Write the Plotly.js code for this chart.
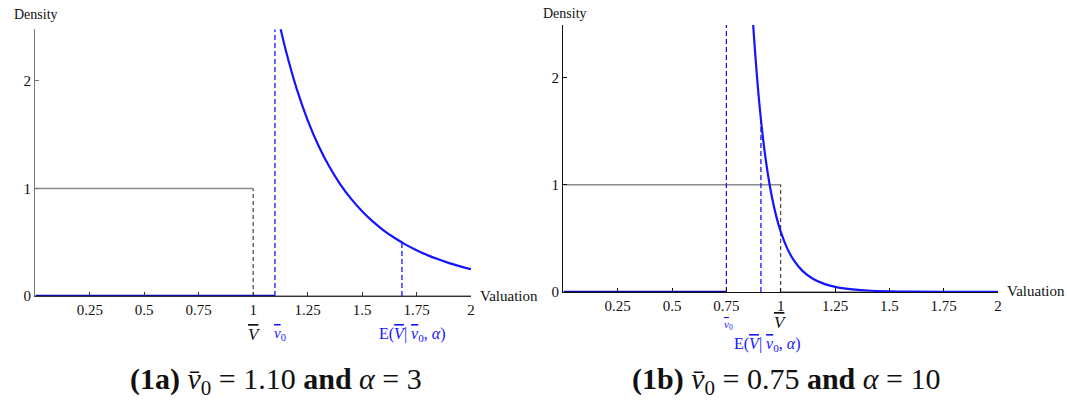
<!DOCTYPE html>
<html><head><meta charset="utf-8">
<script src="https://cdn.plot.ly/plotly-3.0.1.min.js"></script>
<style>body{margin:0;background:#fff}#c{width:1067px;height:402px}</style>
</head><body><div id="c"></div>
<script>
// ---- data ----
const xTicks = [0.25, 0.5, 0.75, 1, 1.25, 1.5, 1.75, 2];
const xTickText = ['0.25', '0.5', '0.75', '1', '1.25', '1.5', '1.75', '2'];
const yTicks = [0, 1, 2];
const yTickText = ['0', '1', '2'];

// panel (1a): v0 = 1.10, alpha = 3
const a_v0 = 1.10;
const a_E = 1.683;
const a_Ey = 0.498;
const a_curveX = [1.10, 1.12, 1.15, 1.20, 1.25, 1.30, 1.35, 1.40, 1.45, 1.50, 1.55, 1.60, 1.65, 1.70, 1.75, 1.80, 1.85, 1.90, 1.95, 2.00];
const a_curveY = [2.727, 2.538, 2.283, 1.926, 1.636, 1.398, 1.202, 1.039, 0.903, 0.789, 0.692, 0.609, 0.539, 0.478, 0.426, 0.380, 0.341, 0.306, 0.276, 0.250];

// panel (1b): v0 = 0.75, alpha = 10
const b_v0 = 0.75;
const b_E = 0.909;
const b_Ey = 1.60;
const b_curveX = [0.85, 0.87, 0.88, 0.90, 0.92, 0.94, 0.96, 0.98, 1.00, 1.03, 1.06, 1.10, 1.15, 1.20, 1.25, 1.30, 1.40, 1.50, 1.60, 1.75, 2.00];
const b_curveY = [3.364, 2.606, 2.298, 1.795, 1.409, 1.112, 0.882, 0.703, 0.563, 0.407, 0.297, 0.197, 0.121, 0.076, 0.048, 0.031, 0.014, 0.0065, 0.0032, 0.0012, 0.0003];

// uniform density on [0,1]
const uniX = [0, 1];
const uniY = [1, 1];
const uniDashX = [1, 1];
const uniDashY = [0, 1];
const uniZeroX = [1, 2];
const uniZeroY = [0, 0];

const yMaxA = 2.48, yMaxB = 2.49;

// ---- styling ----
const BLUE = '#1414ff';
const GRAY = '#8a8a8a';
const FONT = 'Liberation Serif, Times New Roman, serif';

function traces(xa, ya, v0, E, Ey, cx, cy, yMax) {
  return [
    {x: uniZeroX, y: uniZeroY, xaxis: xa, yaxis: ya, mode: 'lines', line: {color: GRAY, width: 1.5}},
    {x: uniX, y: uniY, xaxis: xa, yaxis: ya, mode: 'lines', line: {color: GRAY, width: 1.5}},
    {x: uniDashX, y: uniDashY, xaxis: xa, yaxis: ya, mode: 'lines', line: {color: '#222', width: 1, dash: '4px,3px'}},
    {x: [0, v0], y: [0, 0], xaxis: xa, yaxis: ya, mode: 'lines', line: {color: '#0a0aa0', width: 2.5}},
    {x: [v0, v0], y: [0, yMax], xaxis: xa, yaxis: ya, mode: 'lines', line: {color: BLUE, width: 1.3, dash: '5px,3px'}},
    {x: [E, E], y: [0, Ey], xaxis: xa, yaxis: ya, mode: 'lines', line: {color: BLUE, width: 1.3, dash: '5px,3px'}},
    {x: cx, y: cy, xaxis: xa, yaxis: ya, mode: 'lines', line: {color: BLUE, width: 2.2, shape: 'spline'}}
  ];
}

const data = [].concat(
  traces('x', 'y', a_v0, a_E, a_Ey, a_curveX, a_curveY, yMaxA),
  traces('x2', 'y2', b_v0, b_E, b_Ey, b_curveX, b_curveY, yMaxB)
);

const H = 402, W = 1067;
const py = p => (H - p) / H;
const px = p => p / W;

function xax(dom, anchor, color) {
  return {domain: dom, anchor: anchor, range: [0, 2], tickvals: xTicks, ticktext: xTickText,
    ticks: 'inside', ticklen: 4, tickcolor: color, tickwidth: 1, showline: true, linecolor: color, linewidth: 1.3,
    showgrid: false, zeroline: false, fixedrange: true, tickfont: {family: FONT, size: 15, color: '#111'}};
}
function yax(dom, anchor, color, ymax) {
  return {domain: dom, anchor: anchor, range: [0, ymax], tickvals: yTicks, ticktext: yTickText,
    ticks: 'inside', ticklen: 4, tickcolor: color, tickwidth: 1, showline: true, linecolor: color, linewidth: 1.3,
    showgrid: false, zeroline: false, fixedrange: true, tickfont: {family: FONT, size: 15, color: '#111'}};
}

const OV = s => '<span style="text-decoration:overline">' + s + '</span>';
const vbar = '<i>' + OV('v') + '</i><sub>0</sub>';
const Vbar = '<i>' + OV('V') + '</i>';
const Etext = 'E(' + Vbar + '| ' + vbar + ', <i>α</i>)';

function ann(text, x, y, xref, opts) {
  return Object.assign({text: text, x: x, y: y, xref: xref, yref: 'paper', showarrow: false,
    font: {family: FONT, size: 14, color: '#111'}, xanchor: 'center', yanchor: 'middle'}, opts || {});
}

const annotations = [
  ann('Density', px(36), py(15), 'paper', {xanchor: 'center', font: {family: FONT, size: 14, color: '#111'}}),
  ann('Valuation', px(478), py(296), 'paper', {xanchor: 'left', font: {family: FONT, size: 15, color: '#111'}}),
  ann(Vbar, px(254.5), py(334), 'paper', {font: {family: FONT, size: 17, color: '#111'}}),
  ann(vbar, px(280), py(334), 'paper', {font: {family: FONT, size: 15, color: BLUE}}),
  ann(Etext, px(412), py(334), 'paper', {font: {family: FONT, size: 16, color: BLUE}}),

  ann('Density', px(565), py(13), 'paper', {xanchor: 'center', font: {family: FONT, size: 14, color: '#111'}}),
  ann('Valuation', px(1005), py(291), 'paper', {xanchor: 'left', font: {family: FONT, size: 15, color: '#111'}}),
  ann(vbar, px(728), py(325), 'paper', {font: {family: FONT, size: 11, color: BLUE}}),
  ann(Vbar, px(780), py(322), 'paper', {font: {family: FONT, size: 17, color: '#111'}}),
  ann(Etext, px(767), py(344), 'paper', {font: {family: FONT, size: 16, color: BLUE}}),

  ann('<b>(1a)</b> <i>v\u0304</i><sub>0</sub> = 1.10 <b>and</b> <i>α</i> = 3', px(276), py(381), 'paper',
      {font: {family: FONT, size: 30, color: '#111'}}),
  ann('<b>(1b)</b> <i>v\u0304</i><sub>0</sub> = 0.75 <b>and</b> <i>α</i> = 10', px(786), py(381), 'paper',
      {font: {family: FONT, size: 30, color: '#111'}})
];

const layout = {
  width: W, height: H, margin: {l: 0, r: 0, t: 0, b: 0},
  paper_bgcolor: '#fff', plot_bgcolor: '#fff', showlegend: false,
  xaxis: xax([px(35.3), px(471)], 'y', '#333'),
  yaxis: yax([py(296), py(29.3)], 'x', '#777', yMaxA),
  xaxis2: xax([px(563.4), px(998)], 'y2', '#111'),
  yaxis2: yax([py(292), py(25)], 'x2', '#111', yMaxB),
  annotations: annotations
};

Plotly.newPlot('c', data, layout, {staticPlot: true, displayModeBar: false});
</script></body></html>
